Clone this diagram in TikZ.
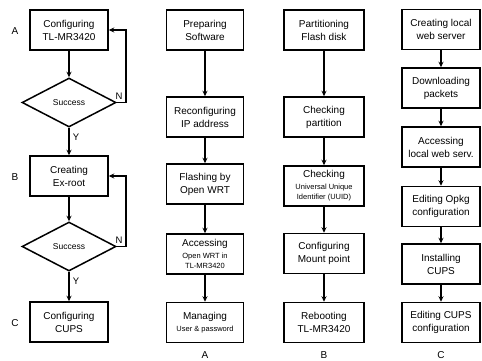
\documentclass[tikz,border=0pt]{standalone}
\usepackage{fontspec}
\setmainfont{Liberation Sans}
\usetikzlibrary{shapes.geometric,arrows.meta}
\newcommand{\smallf}{\fontsize{7.5}{9}\selectfont}
\begin{document}
\begin{tikzpicture}[x=1pt,y=-1pt,
  box/.style={draw, line width=1.5pt, fill=white, align=center, inner sep=1pt,
    minimum height=40pt, font=\fontsize{10}{13}\selectfont},
  w1/.style={minimum width=78pt},
  w2/.style={minimum width=77pt},
  w3/.style={minimum width=80pt},
  w4/.style={minimum width=78pt},
  dia/.style={draw, diamond, aspect=1.9, line width=1.5pt, inner sep=0pt,
    minimum width=94pt, minimum height=49pt, font=\fontsize{8.5}{10}\selectfont},
  arr/.style={line width=1.4pt, -{Stealth[length=5.5pt,width=5pt]}},
  lbl/.style={font=\fontsize{10}{12}\selectfont, inner sep=0pt},
  yn/.style={font=\fontsize{9.5}{11}\selectfont, inner sep=0pt}]
\useasboundingbox (0,0) rectangle (482,360);

% ---------- column 1 ----------
\node[box,w1] (a) at (69,30) {Configuring\\TL-MR3420};
\node[dia] (d1) at (69,102.5) {Success};
\node[box,w1] (b) at (69,176) {Creating\\Ex-root};
\node[dia] (d2) at (69,246.5) {Success};
\node[box,w1] (c) at (69,322) {Configuring\\CUPS};
\coordinate (lp) at (126,0);

\draw[arr] (a) -- (d1);
\draw[arr] (d1) -- (b);
\draw[arr] (b) -- (d2);
\draw[arr] (d2) -- (c);
\draw[arr] (d1.east) -- (d1.east -| lp) -- (a.east -| lp) -- (a.east);
\draw[arr] (d2.east) -- (d2.east -| lp) -- (b.east -| lp) -- (b.east);

\node[yn] (n1) at (119,96) {N};
\node[yn] (n2) at (119,240) {N};
\node[yn] (y1) at (76,137) {Y};
\node[yn] (y2) at (76,281) {Y};

\node[lbl] (la) at (15,31) {A};
\node[lbl] (lb) at (15,177) {B};
\node[lbl] (lc) at (15,323) {C};

% ---------- column 2 ----------
\node[box,w2] (p1) at (205,30) {Preparing\\Software};
\node[box,w2] (p2) at (205,117) {Reconfiguring\\IP address};
\node[box,w2] (p3) at (205,184) {Flashing by\\Open WRT};
\node[box,w2] (p4) at (205,254) {Accessing\\[-1pt]{\smallf Open WRT in}\\[-3pt]{\smallf TL-MR3420}};
\node[box,w2] (p5) at (205,322.5) {Managing\\[-1pt]{\smallf User \& password}};
\draw[arr] (p1) -- (p2);
\draw[arr] (p2) -- (p3);
\draw[arr] (p3) -- (p4);
\draw[arr] (p4) -- (p5);
\node[lbl] (ca) at (205,355) {A};

% ---------- column 3 ----------
\node[box,w3] (q1) at (324,30) {Partitioning\\Flash disk};
\node[box,w3] (q2) at (324,117) {Checking\\partition};
\node[box,w3] (q3) at (324,186) {Checking\\[-1pt]{\smallf Universal Unique}\\[-3pt]{\smallf Identifier (UUID)}};
\node[box,w3] (q4) at (324,253.5) {Configuring\\Mount point};
\node[box,w3] (q5) at (324,322.5) {Rebooting\\TL-MR3420};
\draw[arr] (q1) -- (q2);
\draw[arr] (q2) -- (q3);
\draw[arr] (q3) -- (q4);
\draw[arr] (q4) -- (q5);
\node[lbl] (cb) at (324,355) {B};

% ---------- column 4 ----------
\node[box,w4] (r1) at (441,29.5) {Creating local\\web server};
\node[box,w4] (r2) at (441,88) {Downloading\\packets};
\node[box,w4] (r3) at (441,147) {Accessing\\local web serv.};
\node[box,w4] (r4) at (441,206.5) {Editing Opkg\\configuration};
\node[box,w4] (r5) at (441,264) {Installing\\CUPS};
\node[box,w4] (r6) at (441,322.5) {Editing CUPS\\configuration};
\draw[arr] (r1) -- (r2);
\draw[arr] (r2) -- (r3);
\draw[arr] (r3) -- (r4);
\draw[arr] (r4) -- (r5);
\draw[arr] (r5) -- (r6);
\node[lbl] (cc) at (441,355) {C};
\end{tikzpicture}
\end{document}
